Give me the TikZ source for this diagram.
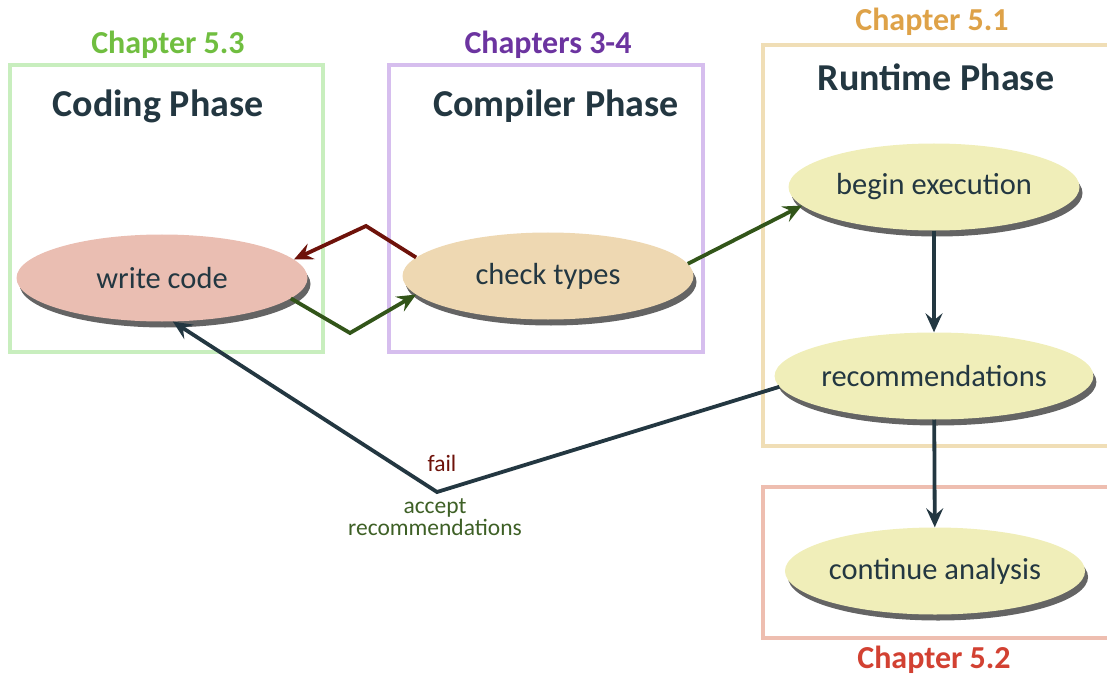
\documentclass[tikz,border=0pt]{standalone}
\usepackage{fontspec}
\setmainfont{Carlito}
\usetikzlibrary{shapes.geometric,arrows.meta,shadows}
\definecolor{darktxt}{RGB}{35,55,65}
\definecolor{boxgreen}{RGB}{200,238,190}
\definecolor{txtgreen}{RGB}{112,190,64}
\definecolor{boxpurple}{RGB}{214,190,238}
\definecolor{txtpurple}{RGB}{108,52,160}
\definecolor{boxtan}{RGB}{240,222,182}
\definecolor{txtorange}{RGB}{222,162,72}
\definecolor{boxsalmon}{RGB}{238,190,176}
\definecolor{txtred}{RGB}{210,65,50}
\definecolor{fillpink}{RGB}{234,190,178}
\definecolor{fillbeige}{RGB}{238,216,178}
\definecolor{fillyellow}{RGB}{240,238,185}
\definecolor{arrred}{RGB}{110,18,10}
\definecolor{arrgreen}{RGB}{50,85,25}
\definecolor{txtdkgreen}{RGB}{62,96,38}
\definecolor{shadowgray}{RGB}{100,100,100}
\tikzset{
  phasebox/.style={line width=3.5pt},
  chaplabel/.style={font=\fontsize{32}{36}\selectfont\bfseries},
  phasetitle/.style={font=\fontsize{38}{40}\selectfont\bfseries, text=darktxt},
  task/.style={ellipse, minimum width=291pt, minimum height=87pt, inner sep=0pt,
    text=darktxt, font=\fontsize{30.5}{32}\selectfont,
    drop shadow={shadow xshift=3pt, shadow yshift=-6pt, opacity=1, fill=shadowgray}},
  conn/.style={line width=3.8pt, -{Stealth[length=19pt,width=17pt,inset=7pt]}},
  edgelabel/.style={font=\fontsize{23.5}{22}\selectfont, align=center}
}
\begin{document}
\begin{tikzpicture}[x=1pt,y=-1pt]
\useasboundingbox (0,0) rectangle (1107,676);
% boxes
\draw[phasebox, boxgreen] (10,65) rectangle (323,352);
\draw[phasebox, boxpurple] (389,65) rectangle (703,352);
\draw[phasebox, boxtan] (1115,45) -- (763,45) -- (763,446) -- (1115,446);
\draw[phasebox, boxsalmon] (1115,487) -- (763,487) -- (763,638) -- (1115,638);
% chapter labels
\node[chaplabel, text=txtgreen] (ch53) at (168,45) {Chapter 5.3};
\node[chaplabel, text=txtpurple] (ch34) at (548,45) {Chapters 3-4};
\node[chaplabel, text=txtorange] (ch51) at (932,22) {Chapter 5.1};
\node[chaplabel, text=txtred] (ch52) at (934,660) {Chapter 5.2};
% titles
\node[phasetitle] (tcode) at (158,106) {Coding Phase};
\node[phasetitle] (tcomp) at (556,106) {Compiler Phase};
\node[phasetitle] (trun) at (936,77) {Runtime Phase};
% tasks
\node[task, fill=fillpink] (wc) at (162,278) {write code};
\node[task, fill=fillbeige] (ct) at (548,276) {check types};
\node[task, fill=fillyellow] (be) at (934,187) {begin execution};
\node[task, fill=fillyellow] (rec) at (934,376) {recommendations};
\node[task, fill=fillyellow] (ca) at (935,571) {continue analysis};
% bend points
\coordinate (redc) at (366,226);
\coordinate (grnc) at (350,333);
\coordinate (failc) at (437,492);
% connectors
\draw[conn, arrred] (ct.172) -- (redc) -- (wc.8);
\draw[conn, arrgreen] (wc.-9) -- (grnc) -- (ct.188);
\draw[conn, arrgreen] (ct.5) -- (be.188);
\draw[conn, darktxt] (be) -- (rec);
\draw[conn, darktxt] (rec) -- (ca);
\draw[conn, darktxt] (rec.184) -- (failc) -- (wc.-76);
% labels
\node[edgelabel, text=arrred] (fail) at (442,463) {fail};
\node[edgelabel, text=txtdkgreen] (accept) at (435,517) {accept\\recommendations};
\end{tikzpicture}
\end{document}
